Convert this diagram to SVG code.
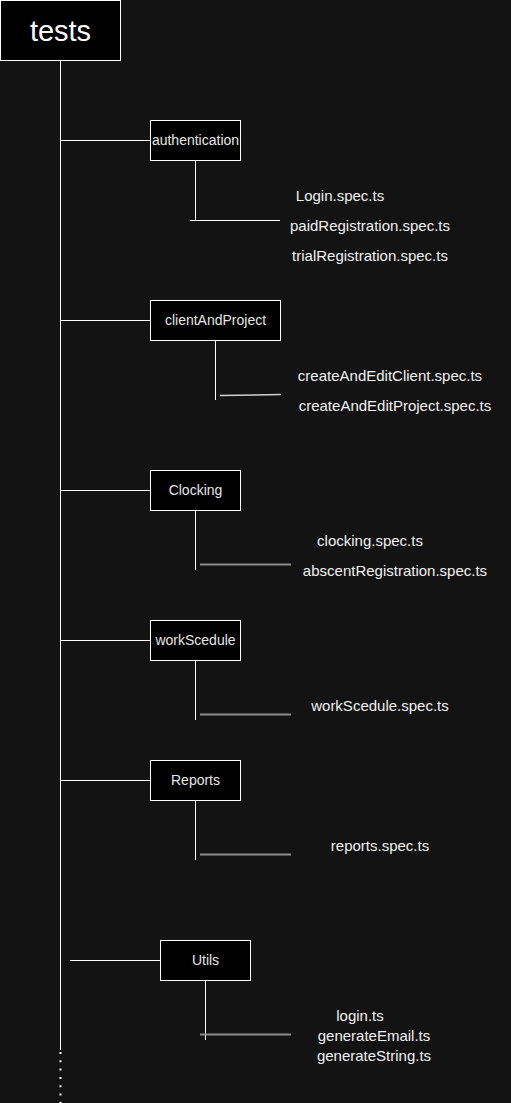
<svg xmlns="http://www.w3.org/2000/svg" width="511" height="1103" viewBox="0 0 511 1103">
<style>
.box{fill:#000;stroke:#fff;stroke-width:1}
.lbl{font-family:"Liberation Sans",Arial,sans-serif;font-size:14px;fill:#e6e6e6;text-anchor:middle}
.file{font-family:"Liberation Sans",Arial,sans-serif;font-size:15px;fill:#f0f0f0;text-anchor:middle}
.w{stroke:#fff;stroke-width:1;fill:none}
.g{stroke:#8c8c8c;stroke-width:2;fill:none}
</style>
<rect width="511" height="1103" fill="#131313"/>
<g id="connectors">
<line class="w" x1="60.5" y1="60" x2="60.5" y2="1050"/>
<line x1="60.5" y1="1052" x2="60.5" y2="1103" stroke="#fff" stroke-width="2" stroke-dasharray="2 6.3"/>
<line class="w" x1="60" y1="140.5" x2="150" y2="140.5"/>
<line class="w" x1="60" y1="320.5" x2="150" y2="320.5"/>
<line class="w" x1="60" y1="490.5" x2="150" y2="490.5"/>
<line class="w" x1="60" y1="640.5" x2="150" y2="640.5"/>
<line class="w" x1="60" y1="780.5" x2="150" y2="780.5"/>
<line class="w" x1="70" y1="960.5" x2="160" y2="960.5"/>
<line class="w" x1="195.5" y1="160" x2="195.5" y2="220"/>
<line class="w" x1="190" y1="220.5" x2="280" y2="220.5"/>
<line class="w" x1="215.5" y1="340" x2="215.5" y2="400"/>
<line x1="220" y1="395.5" x2="281" y2="394.5" stroke="#d0d0d0" stroke-width="1.5"/>
<line class="w" x1="195.5" y1="510" x2="195.5" y2="570"/>
<line class="g" x1="200" y1="564.5" x2="291" y2="564.5"/>
<line class="w" x1="195.5" y1="660" x2="195.5" y2="720"/>
<line class="g" x1="200" y1="714.5" x2="291" y2="714.5"/>
<line class="w" x1="195.5" y1="800" x2="195.5" y2="860"/>
<line class="g" x1="200" y1="854.5" x2="291" y2="854.5"/>
<line class="w" x1="205.5" y1="980" x2="205.5" y2="1040"/>
<line class="g" x1="200" y1="1034.5" x2="291" y2="1034.5"/>
</g>
<g id="tests">
<rect class="box" x="0.5" y="0.5" width="120" height="60"/>
<text x="60.5" y="41" font-family="Liberation Sans,Arial,sans-serif" font-size="29" fill="#fff" text-anchor="middle">tests</text>
</g>
<g id="authentication">
<rect class="box" x="150.5" y="120.5" width="90" height="40"/>
<text class="lbl" x="195.5" y="145">authentication</text>
</g>
<g id="authentication-files">
<text class="file" x="340" y="201">Login.spec.ts</text>
<text class="file" x="370" y="231">paidRegistration.spec.ts</text>
<text class="file" x="370" y="261">trialRegistration.spec.ts</text>
</g>
<g id="clientAndProject">
<rect class="box" x="150.5" y="300.5" width="130" height="40"/>
<text class="lbl" x="215.5" y="325">clientAndProject</text>
</g>
<g id="clientAndProject-files">
<text class="file" x="390" y="381">createAndEditClient.spec.ts</text>
<text class="file" x="395" y="411">createAndEditProject.spec.ts</text>
</g>
<g id="Clocking">
<rect class="box" x="150.5" y="470.5" width="90" height="40"/>
<text class="lbl" x="195.5" y="495">Clocking</text>
</g>
<g id="Clocking-files">
<text class="file" x="370" y="546">clocking.spec.ts</text>
<text class="file" x="395" y="576">abscentRegistration.spec.ts</text>
</g>
<g id="workScedule">
<rect class="box" x="150.5" y="620.5" width="90" height="40"/>
<text class="lbl" x="195.5" y="645">workScedule</text>
</g>
<g id="workScedule-files">
<text class="file" x="380" y="711">workScedule.spec.ts</text>
</g>
<g id="Reports">
<rect class="box" x="150.5" y="760.5" width="90" height="40"/>
<text class="lbl" x="195.5" y="785">Reports</text>
</g>
<g id="Reports-files">
<text class="file" x="380" y="851">reports.spec.ts</text>
</g>
<g id="Utils">
<rect class="box" x="160.5" y="940.5" width="90" height="40"/>
<text class="lbl" x="205.5" y="965">Utils</text>
</g>
<g id="Utils-files">
<text class="file" x="360" y="1021">login.ts</text>
<text class="file" x="374" y="1041">generateEmail.ts</text>
<text class="file" x="374" y="1061">generateString.ts</text>
</g>
</svg>
